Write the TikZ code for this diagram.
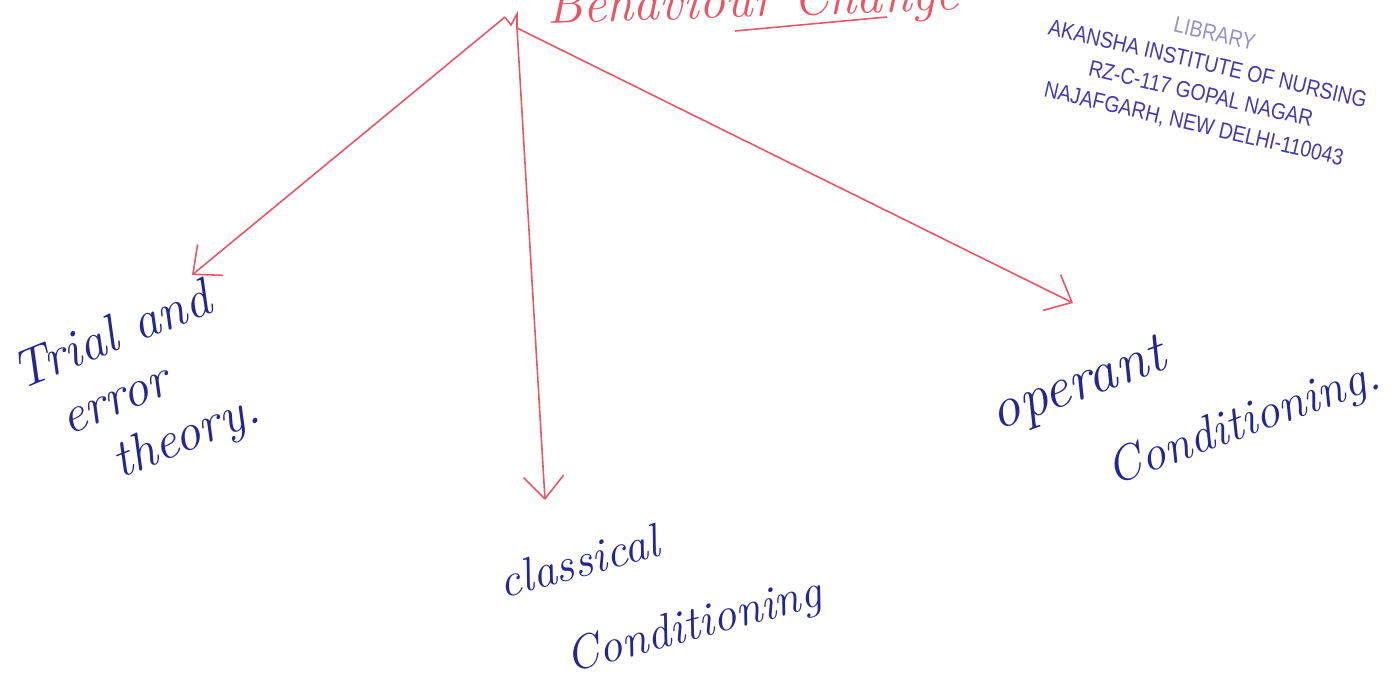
\documentclass[tikz,border=0pt]{standalone}
\usepackage{fontspec}
\newfontfamily\stampfont[FakeStretch=0.85]{Liberation Sans}
\usetikzlibrary{arrows.meta}
\definecolor{penred}{RGB}{232,86,102}
\definecolor{inkblue}{RGB}{38,38,145}
\definecolor{stampblue}{RGB}{68,58,172}
\definecolor{stamplight}{RGB}{150,145,200}

\begin{document}
\begin{tikzpicture}[x=0.02cm, y=-0.02cm,
    pen/.style={draw=penred, line width=0.9pt},
    arr/.style={-{Straight Barb[length=0.45cm,width=0.8cm]}},
    hand/.style={text=inkblue, inner sep=0pt, anchor=north west, align=left},
    stamp/.style={text=stampblue, inner sep=0pt, align=center, rotate=-13,
        font=\stampfont\fontsize{13}{17.5}\selectfont}]

    \useasboundingbox (0,0) rectangle (1398,693);
    \clip (0,0) rectangle (1398,693);
    \fill[white] (0,0) rectangle (1398,693);

    % heading, cut off by the top edge
    \node[anchor=base west, text=penred, inner sep=0pt, rotate=2,
        font=\itshape\fontsize{30}{36}\selectfont] (head) at (547,24)
        {Behaviour Change};
    \draw[pen] (735,31) -- (887,17);

    % library stamp
    \node[stamp] (stamp) at (1204,80)
        {{\color{stamplight}LIBRARY}\\
         AKANSHA INSTITUTE OF NURSING\\
         RZ-C-117 GOPAL NAGAR\\
         NAJAFGARH, NEW DELHI-110043};

    % the three branches
    \coordinate (fork) at (505,17);
    \coordinate (root) at (517,28);
    \coordinate (trialend) at (192,275);
    \coordinate (classend) at (545,500);
    \coordinate (operend) at (1073,303);

    \draw[pen] (fork) -- (511,25) -- (517,14) -- (root);
    \draw[pen, arr] (fork) -- (trialend);
    \draw[pen, arr] (root) -- (classend);
    \draw[pen, arr] (root) -- (operend);

    % labels
    \node[hand, rotate=22, font=\itshape\fontsize{30}{34}\selectfont]
        (trial) at (6,356)
        {Trial and\\\hspace*{0.56cm}error\\\hspace*{1.2cm}theory.};
    \node[hand, rotate=15, font=\itshape\fontsize{27}{51}\selectfont]
        (classical) at (495,566)
        {classical\\\hspace*{0.9cm}Conditioning};
    \node[hand, rotate=20, font=\itshape\fontsize{28}{52}\selectfont]
        (operant) at (985,396)
        {{\fontsize{33}{40}\selectfont operant}\\\hspace*{1.8cm}Conditioning.};

\end{tikzpicture}
\end{document}
